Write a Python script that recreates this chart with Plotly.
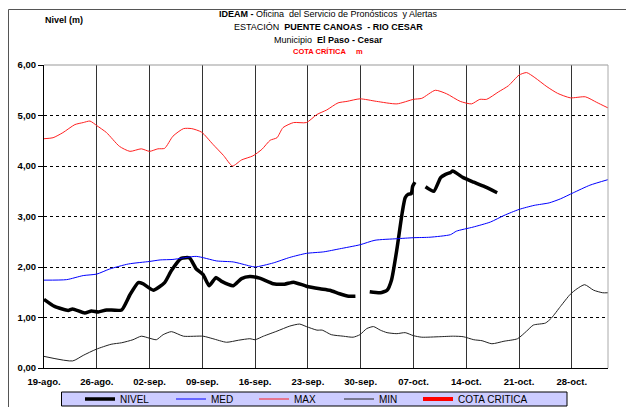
import datetime as dt
import plotly.graph_objects as go

BASE = dt.datetime(2010, 8, 19)

# ---- data (day offsets from 19-ago, values in m) ----
nivel_days = [0, 1.4, 3.2, 3.8, 5.4, 6.3, 7.2, 8.3, 10.3, 11.4, 12.5, 13.1, 14.5, 16.0, 16.9, 18.2, 19.3,
              20.2, 21.1, 21.9, 22.8, 23.5, 25.1, 26.2, 27.3, 28.6, 30.4, 31.9, 33.1, 34.8, 36.6, 37.9,
              39.2, 40.4, 41.3, None,
              43.2, 44.6, 45.5, 46.1, 46.8, 47.5, 47.9, 48.3, 48.7, 48.9, 49.2, None,
              50.6, 51.7, 52.6, 53.2, 53.9, 54.2, 55.6, 57.0, 58.3, 60.1]
nivel_vals = [1.36, 1.22, 1.14, 1.17, 1.09, 1.13, 1.11, 1.15, 1.15, 1.45, 1.69, 1.67, 1.54, 1.69, 1.93, 2.17, 2.18,
              1.96, 1.85, 1.63, 1.79, 1.72, 1.63, 1.77, 1.81, 1.78, 1.67, 1.66, 1.70, 1.62, 1.57, 1.54,
              1.47, 1.42, 1.42, None,
              1.51, 1.49, 1.54, 1.75, 2.35, 3.07, 3.37, 3.44, 3.45, 3.60, 3.68, None,
              3.59, 3.50, 3.77, 3.83, 3.87, 3.90, 3.77, 3.68, 3.60, 3.47]

med_days = [0, 3, 5.2, 7, 8.7, 11.2, 14, 15.4, 17.1, 20.2, 22.9, 25.1, 27.3, 28, 30.4, 32.6, 34.8, 37.1,
            39.2, 41.9, 43.9, 46.8, 49, 51.2, 53.9, 54.7, 56.9, 59.2, 61, 63, 65, 67, 68.5, 70.2, 72.4, 74.8]
med_vals = [1.74, 1.75, 1.83, 1.86, 1.96, 2.06, 2.11, 2.14, 2.15, 2.21, 2.12, 2.10, 2.02, 2.00, 2.08, 2.19,
            2.27, 2.30, 2.36, 2.44, 2.53, 2.56, 2.58, 2.59, 2.64, 2.71, 2.79, 2.89, 3.02, 3.14, 3.22, 3.27,
            3.35, 3.47, 3.62, 3.73]

max_days = [0, 1.2, 2.5, 4.1, 5.2, 6.1, 7, 8.3, 10, 11.4, 12.9, 14, 15.1, 16, 17.1, 18.5, 19.6, 20.9, 22.4,
            23.8, 25, 26.2, 27.7, 28.9, 30, 30.9, 31.7, 33.1, 34.8, 36.2, 37.5, 39, 40.2, 41.9, 44.1, 46.8,
            49, 50.1, 51.9, 53.4, 55.2, 56.7, 57.8, 58.7, 60.3, 61.6, 63, 64, 65.1, 66.7, 68.1, 69.8, 71.8,
            73.3, 74.8]
max_vals = [4.54, 4.56, 4.66, 4.82, 4.86, 4.89, 4.80, 4.66, 4.39, 4.29, 4.34, 4.29, 4.34, 4.35, 4.59, 4.74,
            4.74, 4.67, 4.43, 4.21, 4.00, 4.12, 4.20, 4.33, 4.51, 4.56, 4.76, 4.86, 4.86, 5.02, 5.11, 5.25,
            5.28, 5.33, 5.28, 5.23, 5.32, 5.34, 5.50, 5.43, 5.28, 5.23, 5.32, 5.32, 5.47, 5.59, 5.80, 5.85,
            5.75, 5.57, 5.44, 5.35, 5.37, 5.26, 5.15]

min_days = [0, 3.8, 5.2, 6.9, 8.9, 10.3, 11.8, 12.9, 14, 14.9, 15.8, 16.9, 18.5, 21.1, 22.4, 24.2, 25.8,
            27.3, 28, 29.1, 30.9, 32.6, 33.9, 34.8, 36.2, 36.9, 38.1, 39.7, 41, 41.9, 42.8, 43.7, 44.6,
            45.5, 46.8, 47.9, 49, 50.1, 52.5, 54.3, 55.6, 57, 58.1, 59.4, 61, 62.8, 64, 64.9, 66.5, 67.3,
            68.5, 69.8, 70.7, 71.7, 72.9, 74.1, 74.8]
min_vals = [0.23, 0.14, 0.25, 0.37, 0.47, 0.50, 0.56, 0.63, 0.59, 0.56, 0.66, 0.72, 0.63, 0.63, 0.58, 0.51,
            0.55, 0.58, 0.56, 0.63, 0.73, 0.83, 0.87, 0.82, 0.75, 0.75, 0.66, 0.63, 0.61, 0.66, 0.78, 0.82,
            0.75, 0.70, 0.68, 0.70, 0.64, 0.61, 0.62, 0.63, 0.62, 0.56, 0.54, 0.48, 0.53, 0.58, 0.73, 0.85,
            0.89, 0.99, 1.22, 1.46, 1.57, 1.65, 1.54, 1.49, 1.49]

tick_days = [0, 7, 14, 21, 28, 35, 42, 49, 56, 63, 70]
tick_labels = ["19-ago.", "26-ago.", "02-sep.", "09-sep.", "16-sep.", "23-sep.", "30-sep.",
               "07-oct.", "14-oct.", "21-oct.", "28-oct."]


def to_dates(days):
    return [None if d is None else BASE + dt.timedelta(days=d) for d in days]


FONT = "Liberation Sans, Arial, sans-serif"

fig = go.Figure()
fig.add_trace(go.Scatter(x=to_dates(nivel_days), y=nivel_vals, name="NIVEL", mode="lines",
                         line=dict(color="black", width=3.5, shape="spline", smoothing=0.5),
                         connectgaps=False, legend="legend"))
fig.add_trace(go.Scatter(x=to_dates(med_days), y=med_vals, name="MED", mode="lines",
                         line=dict(color="#0000ff", width=1, shape="spline", smoothing=0.6), legend="legend2"))
fig.add_trace(go.Scatter(x=to_dates(max_days), y=max_vals, name="MAX", mode="lines",
                         line=dict(color="#ff2020", width=1, shape="spline", smoothing=0.6), legend="legend3"))
fig.add_trace(go.Scatter(x=to_dates(min_days), y=min_vals, name="MIN", mode="lines",
                         line=dict(color="#222222", width=1, shape="spline", smoothing=0.6), legend="legend4"))
fig.add_trace(go.Scatter(x=[None], y=[None], name="COTA CRITICA", mode="lines",
                         line=dict(color="#ff0000", width=4), legend="legend5"))

x_end = BASE + dt.timedelta(days=74.8)

# the page body adds an 8px offset; figure is sized so that it fits the 634x407 window
OFF = 8
FIG_W, FIG_H = 634 - OFF, 407 - OFF
# plot area geometry in screen px
L, R, T, B = 44, 608, 65, 368
W, H = R - L, B - T


def px_x(p):
    return (p - L) / W


def px_y(p):
    return (B - p) / H


legend_common = dict(orientation="h", bgcolor="rgba(0,0,0,0)", borderwidth=0,
                     font=dict(family=FONT, size=10, color="black"),
                     yanchor="middle", y=px_y(399), xanchor="left")
leg_text_starts = [120, 211, 294, 379, 458]
legends = {}
for i, ts in enumerate(leg_text_starts):
    key = "legend" if i == 0 else f"legend{i+1}"
    legends[key] = dict(legend_common, x=px_x(ts - 40))

fig.update_layout(
    width=FIG_W, height=FIG_H,
    margin=dict(l=L - OFF, r=634 - R, t=T - OFF, b=407 - B, autoexpand=False),
    paper_bgcolor="white", plot_bgcolor="white",
    separators=",.",
    showlegend=True,
    font=dict(family=FONT, size=9, color="black"),
    xaxis=dict(type="date", range=[BASE, x_end],
               tickvals=to_dates(tick_days), ticktext=tick_labels,
               tickfont=dict(family=FONT, size=9.5, color="black", weight="bold"),
               showgrid=True, gridcolor="#333333", gridwidth=1,
               showline=True, linecolor="black", linewidth=1,
               ticks="", ticklabelstandoff=5, zeroline=False),
    yaxis=dict(range=[0, 6], dtick=1, tick0=0, tickformat=".2f",
               tickfont=dict(family=FONT, size=9.5, color="black", weight="bold"),
               showgrid=True, gridcolor="black", gridwidth=1, griddash="dot",
               showline=True, linecolor="black", linewidth=1,
               ticks="outside", ticklen=5, tickcolor="black", zeroline=False),
    **legends,
)

shapes = [
    # top and right plot frame (grey)
    dict(type="line", xref="paper", yref="paper", x0=0, x1=1, y0=1, y1=1,
         line=dict(color="#999999", width=1), layer="above"),
    dict(type="line", xref="paper", yref="paper", x0=1, x1=1, y0=0, y1=1,
         line=dict(color="#aaaaaa", width=1), layer="above"),
    # outer chart border
    dict(type="rect", xref="paper", yref="paper", x0=px_x(8.5), x1=px_x(632.5), y0=px_y(430), y1=px_y(9.5),
         line=dict(color="#555555", width=1), fillcolor="rgba(0,0,0,0)", layer="below"),
    # legend box
    dict(type="rect", xref="paper", yref="paper", x0=px_x(61.5), x1=px_x(567), y0=px_y(406), y1=px_y(392),
         line=dict(color="black", width=1), fillcolor="#ccccff", layer="below"),
]
fig.update_layout(shapes=shapes)

cx = px_x(328)
annots = [
    dict(text="<b>IDEAM -</b> Oficina  del Servicio de Pronósticos  y Alertas", y=px_y(14), size=9, color="black"),
    dict(text="ESTACIÓN  <b>PUENTE CANOAS  - RIO CESAR</b>", y=px_y(27), size=9, color="black"),
    dict(text="Municipio  <b>El Paso - Cesar</b>", y=px_y(40), size=9, color="black"),
    dict(text="<b>COTA CRÍTICA     m</b>", y=px_y(51), size=7.5, color="#ff0000"),
]
for a in annots:
    fig.add_annotation(text=a["text"], xref="paper", yref="paper", x=cx, y=a["y"],
                       xanchor="center", yanchor="middle", showarrow=False,
                       font=dict(family=FONT, size=a["size"], color=a["color"]))
fig.add_annotation(text="<b>Nivel (m)</b>", xref="paper", yref="paper", x=px_x(64), y=px_y(20),
                   xanchor="center", yanchor="middle", showarrow=False,
                   font=dict(family=FONT, size=9, color="black"))

fig.write_html("out.html")
